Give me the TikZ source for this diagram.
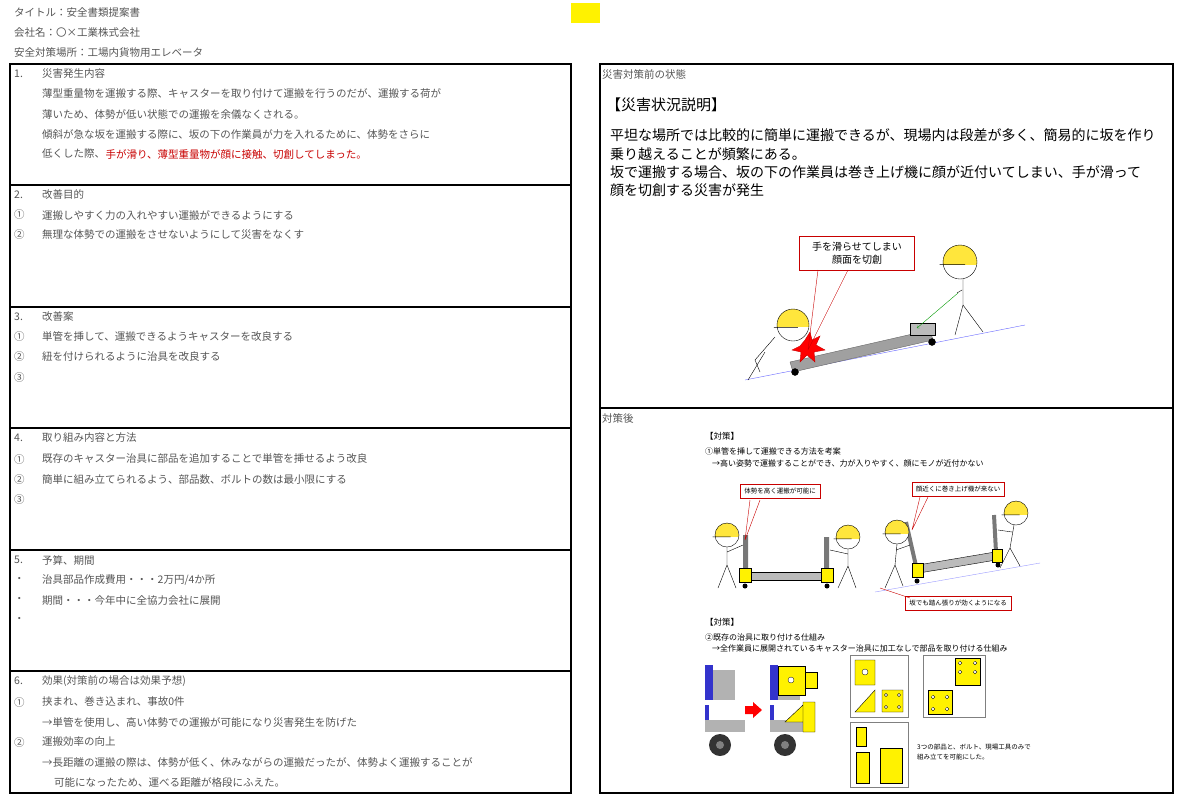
\documentclass[tikz,border=0pt]{standalone}
\usepackage{fontspec}
\setmainfont{Noto Sans CJK JP}
\definecolor{txtgray}{RGB}{85,85,85}
\definecolor{red1}{RGB}{200,0,0}
\definecolor{helmet}{RGB}{255,230,60}
\definecolor{pipe}{RGB}{120,120,120}
\tikzset{
  sheet/.style={draw, line width=1.2pt},
  line/.style={anchor=west, inner sep=0pt, text=txtgray, font=\fontsize{10.5}{12}\selectfont},
  redline/.style={line, text=red1},
  big/.style={anchor=west, inner sep=0pt, font=\fontsize{14}{16}\selectfont},
  small/.style={anchor=west, inner sep=0pt, font=\fontsize{8}{9}\selectfont},
  tiny/.style={font=\fontsize{6.5}{7}\selectfont},
  callout/.style={draw=red1, fill=white, inner sep=4pt},
  part/.style={draw=black, fill=yellow, line width=0.4pt},
  hole/.style={draw=black, fill=white, line width=0.3pt},
  frame/.style={draw=gray, line width=0.4pt}
}
% stick worker head: #1 centre, #2 radius
\newcommand{\head}[2]{%
  \begin{scope}[shift={(#1)}]
    \fill[white] (0,0) circle (#2);
    \begin{scope}
      \clip (0,0) circle (#2);
      \fill[helmet] (-#2,-#2) rectangle (#2,0.15*#2);
    \end{scope}
    \draw (0,0) circle (#2) (-1.2*#2,0.15*#2) -- (0.3*#2,0.15*#2);
  \end{scope}}
\begin{document}
\begin{tikzpicture}[x=1pt,y=-1pt]
    \useasboundingbox (0,0) rectangle (1183,807);

    % header
    \node[line] (title) at (14,13) {タイトル：安全書類提案書};
    \node[line] (company) at (14,33) {会社名：〇×工業株式会社};
    \node[line] (place) at (14,53) {安全対策場所：工場内貨物用エレベータ};
    \fill[yellow] (571,3) rectangle (600,23);

    % left boxes
    \foreach \y/\z in {64/185, 185/307, 307/428, 428/550, 550/671, 671/793}
        \draw[sheet] (10,\y) rectangle (571,\z);

    % 1
    \node[line] at (14,74) {1.};
    \node[line] at (42,74) {災害発生内容};
    \node[line] at (42,94) {薄型重量物を運搬する際、キャスターを取り付けて運搬を行うのだが、運搬する荷が};
    \node[line] at (42,114) {薄いため、体勢が低い状態での運搬を余儀なくされる。};
    \node[line] at (42,134) {傾斜が急な坂を運搬する際に、坂の下の作業員が力を入れるために、体勢をさらに};
    \node[line] (s1) at (42,154) {低くした際、};
    \node[redline] at (s1.east) {手が滑り、薄型重量物が顔に接触、切創してしまった。};
    % 2
    \node[line] at (14,195) {2.};
    \node[line] at (42,195) {改善目的};
    \node[line] at (14,215) {①};
    \node[line] at (42,215) {運搬しやすく力の入れやすい運搬ができるようにする};
    \node[line] at (14,235) {②};
    \node[line] at (42,235) {無理な体勢での運搬をさせないようにして災害をなくす};
    % 3
    \node[line] at (14,317) {3.};
    \node[line] at (42,317) {改善案};
    \node[line] at (14,337) {①};
    \node[line] at (42,337) {単管を挿して、運搬できるようキャスターを改良する};
    \node[line] at (14,357) {②};
    \node[line] at (42,357) {紐を付けられるように治具を改良する};
    \node[line] at (14,377) {③};
    % 4
    \node[line] at (14,438) {4.};
    \node[line] at (42,438) {取り組み内容と方法};
    \node[line] at (14,459) {①};
    \node[line] at (42,459) {既存のキャスター治具に部品を追加することで単管を挿せるよう改良};
    \node[line] at (14,479) {②};
    \node[line] at (42,479) {簡単に組み立てられるよう、部品数、ボルトの数は最小限にする};
    \node[line] at (14,499) {③};
    % 5
    \node[line] at (14,560) {5.};
    \node[line] at (42,560) {予算、期間};
    \node[line] at (14,580) {・};
    \node[line] at (42,580) {治具部品作成費用・・・2万円/4か所};
    \node[line] at (14,600) {・};
    \node[line] at (42,600) {期間・・・今年中に全協力会社に展開};
    \node[line] at (14,620) {・};
    % 6
    \node[line] at (14,681) {6.};
    \node[line] at (42,681) {効果(対策前の場合は効果予想)};
    \node[line] at (14,702) {①};
    \node[line] at (42,702) {挟まれ、巻き込まれ、事故0件};
    \node[line] at (42,722) {→単管を使用し、高い体勢での運搬が可能になり災害発生を防げた};
    \node[line] at (14,742) {②};
    \node[line] at (42,742) {運搬効率の向上};
    \node[line] at (42,762) {→長距離の運搬の際は、体勢が低く、休みながらの運搬だったが、体勢よく運搬することが};
    \node[line] at (54,782) {可能になったため、運べる距離が格段にふえた。};

    % right boxes
    \draw[sheet] (600,64) rectangle (1173,408);
    \draw[sheet] (600,408) rectangle (1173,793);

    % before
    \node[line] at (602,74) {災害対策前の状態};
    \node[big, font=\fontsize{15}{17}\selectfont] at (606,105) {【災害状況説明】};
    \node[big] at (610,135) {平坦な場所では比較的に簡単に運搬できるが、現場内は段差が多く、簡易的に坂を作り};
    \node[big] at (610,154) {乗り越えることが頻繁にある。};
    \node[big] at (610,172) {坂で運搬する場合、坂の下の作業員は巻き上げ機に顔が近付いてしまい、手が滑って};
    \node[big] at (610,190) {顔を切創する災害が発生};

    \draw[blue!60, line width=0.4pt] (745,380) -- (1025,325);
    \draw[fill=pipe!70, draw=black!60] (790,362) -- (930,330) -- (933,340) -- (793,372) -- cycle;
    \draw[fill=pipe!50] (910,323) rectangle (935,335);
    \draw[fill=black] (795,372) circle (3.5) (932,342) circle (3.5);
    \head{793,325}{16}
    \draw (775,337) -- (755,360) -- (760,372) (765,352) -- (748,380);
    \draw[fill=red, draw=red1] (805,340) -- (810,332) -- (812,340) -- (820,336) -- (816,345) -- (825,350)
        -- (814,352) -- (815,362) -- (807,355) -- (800,362) -- (801,352) -- (792,350) -- (800,346) -- cycle;
    \head{960,262}{17}
    \draw (963,279) -- (963,305) -- (955,335) (963,305) -- (983,332) (962,290) -- (957,293);
    \draw[green!60!black, <-] (917,328) -- (958,293);
    \node[callout, align=center, minimum width=115pt, minimum height=34pt,
        font=\fontsize{10}{13}\selectfont] (slip) at (857,253) {手を滑らせてしまい\\顔面を切創};
    \draw[red1] (818,270) -- (808,350) (848,270) -- (808,350);

    % after
    \node[line] at (602,418) {対策後};
    \node[small, font=\fontsize{8.5}{10}\selectfont] at (705,436) {【対策】};
    \node[small] at (705,451) {①単管を挿して運搬できる方法を考案};
    \node[small] at (712,463) {→高い姿勢で運搬することができ、力が入りやすく、顔にモノが近付かない};

    % flat scene
    \draw[fill=pipe!50] (745,572) rectangle (825,580);
    \draw[fill=pipe, draw=none] (743,535) rectangle (748,572) (824,537) rectangle (829,572);
    \draw[part] (739,568) rectangle (751,582) (821,568) rectangle (833,582);
    \fill (745,586) circle (2.5) (827,586) circle (2.5);
    \head{727,535}{12}
    \draw (727,547) -- (727,565) -- (718,588) (727,565) -- (736,588) (727,552) -- (743,545);
    \head{848,537}{12}
    \draw (848,549) -- (848,566) -- (838,588) (848,566) -- (856,588) (848,554) -- (830,550);
    \node[callout, tiny] (high) at (780,491) {体勢を高く運搬が可能に};
    \draw[red1] (750,500) -- (745,540) (760,500) -- (745,540);

    % slope scene
    \draw[blue!40, line width=0.4pt] (875,592) -- (1040,563);
    \draw[fill=pipe!50] (918,565) -- (995,552) -- (996,560) -- (919,573) -- cycle;
    \draw[pipe, line width=4pt] (906,522) -- (916,566) (994,515) -- (996,552);
    \draw[part] (912,563) rectangle (923,577) (992,549) rectangle (1002,562);
    \fill (917,581) circle (2.5) (998,565) circle (2.5);
    \head{897,532}{12}
    \draw (897,544) -- (895,565) -- (885,588) (895,565) -- (903,586) (896,550) -- (910,545);
    \head{1016,513}{12}
    \draw (1014,525) -- (1010,548) -- (1000,568) (1010,548) -- (1020,566) (1012,532) -- (998,530);
    \node[callout, tiny] (nearface) at (958,489) {顔近くに巻き上げ機が来ない};
    \draw[red1] (920,497) -- (912,530) (928,497) -- (912,530);
    \node[callout, tiny] (slope) at (958,603) {坂でも踏ん張りが効くようになる};
    \draw[red1] (910,598) -- (880,588);

    % parts
    \node[small, font=\fontsize{8.5}{10}\selectfont] at (705,622) {【対策】};
    \node[small] at (705,637) {②既存の治具に取り付ける仕組み};
    \node[small] at (712,648) {→全作業員に展開されているキャスター治具に加工なしで部品を取り付ける仕組み};
    \foreach \x in {705,770} {
        \fill[blue!60!gray] (\x,665) rectangle (\x+8,700);
        \fill[gray!60] (\x+8,670) rectangle (\x+30,700);
        \fill[blue!60!gray] (\x,705) rectangle (\x+4,720);
        \fill[gray!60] (\x,720) rectangle (\x+40,732);
        \fill[black!80] (\x+15,745) circle (11);
        \fill[gray] (\x+15,745) circle (4);
    }
    \draw[part] (778,666) rectangle (805,695) (805,672) rectangle (817,688);
    \draw[hole] (791,680) circle (3);
    \draw[part] (785,722) -- (803,705) -- (803,722) -- cycle (803,702) rectangle (815,732);
    \fill[red] (745,706) rectangle (753,714) (753,702) -- (762,710) -- (753,718) -- cycle;
    \draw[frame] (850,655) rectangle (908,717) (923,655) rectangle (985,717) (850,722) rectangle (908,787);
    \draw[part] (855,660) rectangle (875,685) (882,690) rectangle (903,712) (855,712) -- (875,690) -- (875,712) -- cycle;
    \draw[hole] (865,672) circle (3);
    \foreach \hx/\hy in {886/695, 899/695, 886/707, 899/707, 960/663, 975/663, 960/672, 975/672,
                         933/697, 947/697, 933/709, 947/709}
        \draw[hole] (\hx,\hy) circle (1.6);
    \draw[part] (955,658) rectangle (980,685) (928,690) rectangle (952,714);
    \foreach \hx/\hy in {960/663, 975/663, 960/672, 975/672, 933/697, 947/697, 933/709, 947/709}
        \draw[hole] (\hx,\hy) circle (1.8);
    \draw[part] (856,727) rectangle (866,746) (856,752) rectangle (869,783) (880,748) rectangle (902,783);
    \node[small, tiny, anchor=west] at (917,747) {3つの部品と、ボルト、現場工具のみで};
    \node[small, tiny, anchor=west] at (917,757) {組み立てを可能にした。};
\end{tikzpicture}
\end{document}
